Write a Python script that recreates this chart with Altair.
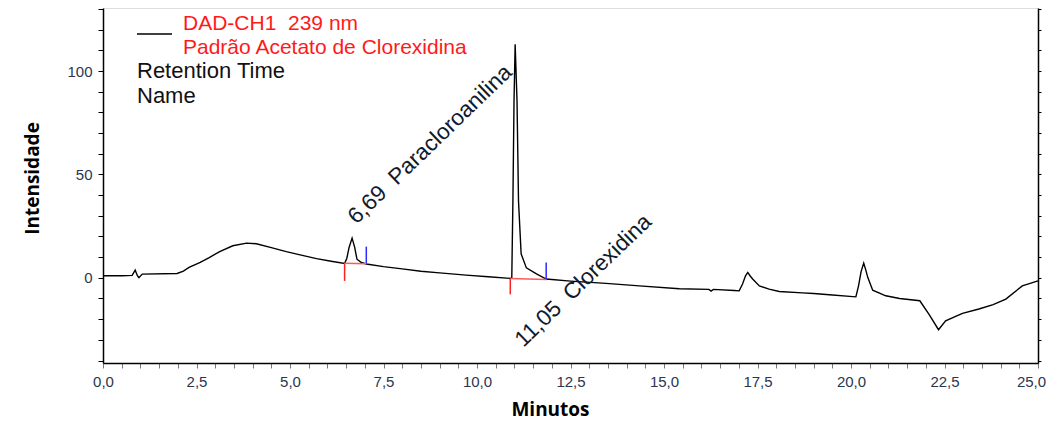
import altair as alt
import pandas as pd

# ---- chromatogram trace (minutes, intensity) ----
t_min = [0.00, 0.50, 0.78, 0.86, 0.92, 0.96, 1.05, 1.98, 2.15, 2.30, 2.60, 2.84, 3.12, 3.47,
         3.84, 4.10, 4.50, 4.90, 5.30, 5.71, 6.10, 6.46, 6.52, 6.58, 6.66, 6.73, 6.79, 6.91,
         7.04, 7.50, 8.00, 8.50, 9.00, 9.71, 10.30, 10.89, 10.93, 10.96, 10.99, 11.02, 11.07,
         11.11, 11.18, 11.32, 11.59, 11.85, 12.50, 13.45, 14.34, 15.41, 16.20, 16.26, 16.32,
         16.88, 17.01, 17.10, 17.18, 17.24, 17.30, 17.37, 17.55, 17.81, 18.08, 18.70, 19.00,
         19.42, 20.13, 20.20, 20.27, 20.34, 20.40, 20.45, 20.58, 20.93, 21.30, 21.84, 22.10,
         22.34, 22.53, 22.98, 23.42, 23.80, 24.14, 24.58, 25.00]
intensity = [1.0, 1.0, 1.2, 3.7, 1.0, 0.1, 1.8, 2.1, 3.2, 5.0, 7.5, 9.8, 12.7, 15.5,
             16.8, 16.5, 14.6, 12.7, 11.0, 9.3, 8.0, 6.9, 9.5, 14.7, 19.2, 14.7, 9.0, 7.4,
             6.7, 5.4, 4.3, 3.2, 2.4, 1.3, 0.5, -0.3, 0.0, 37.0, 85.6, 113.0, 85.6,
             37.0, 11.6, 4.8, 1.9, -0.6, -1.6, -2.7, -3.9, -5.3, -5.6, -6.4, -5.6,
             -6.1, -6.3, -3.0, 1.0, 2.6, 1.0, -0.6, -3.9, -5.5, -6.6, -7.3, -7.6,
             -8.2, -9.2, -4.0, 3.0, 7.1, 3.5, 0.1, -6.0, -8.7, -10.0, -11.1, -18.0,
             -25.1, -20.8, -17.2, -15.1, -13.0, -10.3, -3.9, -1.5]

# ---- integration markers ----
mk_x1 = [6.46, 7.04, 6.46, 10.89, 11.85, 10.89]
mk_x2 = [6.46, 7.04, 7.04, 10.89, 11.85, 11.85]
mk_y1 = [-1.5, 6.7, 7.0, -8.0, -0.8, -0.3]
mk_y2 = [7.2, 15.1, 6.8, -0.3, 7.4, -0.8]
mk_kind = ["start", "end", "base", "start", "end", "base"]

# ---- peak annotations ----
ann_x = [6.78, 11.24]
ann_y = [25.5, -34.0]
ann_text = ["6,69\u00a0 Paracloroanilina", "11,05\u00a0 Clorexidina"]

# ---- legend texts ----
leg_red = ["DAD-CH1\u00a0 239 nm", "Padrão Acetato de Clorexidina"]
leg_black = ["Retention Time", "Name"]

x_ticks = [i * 0.5 for i in range(51)]
y_ticks = list(range(-40, 131, 10))

FONT = "Liberation Sans"
LBL = "#2a3550"

trace = pd.DataFrame({"t": t_min, "v": intensity})
markers = pd.DataFrame({"x1": mk_x1, "x2": mk_x2, "y1": mk_y1, "y2": mk_y2, "kind": mk_kind})
ann = pd.DataFrame({"x": ann_x, "y": ann_y, "text": ann_text})

xscale = alt.Scale(domain=[0, 25], nice=False, zero=False)
yscale = alt.Scale(domain=[-41.2, 130.5], nice=False, zero=False)

xaxis = alt.Axis(
    title="Minutos", values=x_ticks,
    labelExpr="datum.value % 2.5 == 0 ? replace(format(datum.value, '.1f'), '.', ',') : ''",
    labelFont=FONT, labelFontSize=15, labelColor=LBL, labelPadding=6,
    labelOffset={"condition": {"test": "datum.value >= 25", "value": -7}, "value": 0},
    tickSize=5, tickColor="#777777", domainColor="black", domainWidth=1.5,
    titleFont="Open Sans", titleFontWeight="bold", titleFontSize=19, titleColor="black",
    titlePadding=11, titleX=447, grid=False, labelFlush=False, labelOverlap=False,
)
yaxis = alt.Axis(
    title="Intensidade", values=y_ticks,
    labelExpr="datum.value % 50 == 0 ? format(datum.value, 'd') : ''",
    labelFont=FONT, labelFontSize=15, labelColor=LBL, labelPadding=6,
    tickSize=5, tickColor="black", domainColor="black", domainWidth=1.5,
    titleFont="Open Sans", titleFontWeight="bold", titleFontSize=19, titleColor="black",
    titlePadding=24, titleY=170, grid=False, labelOverlap=False,
)
yaxis_right = alt.Axis(orient="right", title=None, labels=False, values=y_ticks,
                       tickSize=3, tickColor="black", domainColor="black",
                       domainWidth=1.5, grid=False)

line = alt.Chart(trace).mark_line(color="black", strokeWidth=1.4).encode(
    x=alt.X("t:Q", scale=xscale, axis=xaxis),
    y=alt.Y("v:Q", scale=yscale, axis=yaxis),
)

marks = alt.Chart(markers).mark_rule(strokeWidth=1.5).encode(
    x=alt.X("x1:Q", scale=xscale, axis=None),
    x2="x2:Q",
    y=alt.Y("y1:Q", scale=yscale, axis=yaxis_right),
    y2="y2:Q",
    color=alt.Color("kind:N", legend=None,
                    scale=alt.Scale(domain=["start", "end", "base"],
                                    range=["#ff2020", "#2a2aff", "#ff5a5a"])),
)

labels = alt.Chart(ann).mark_text(
    align="left", baseline="alphabetic", angle=316, font=FONT, fontSize=22.5, color="#111a2e"
).encode(x=alt.X("x:Q", scale=xscale, axis=None),
         y=alt.Y("y:Q", scale=yscale, axis=None), text="text:N")

one = pd.DataFrame({"a": [0]})
leg_line = alt.Chart(one).mark_rule(color="black", strokeWidth=1.3).encode(
    x=alt.value(34), x2=alt.value(69), y=alt.value(26))
leg_layers = [leg_line]
for i, s in enumerate(leg_red):
    leg_layers.append(alt.Chart(one).mark_text(
        align="left", baseline="middle", font=FONT, fontSize=21, color="#ff1a1a", text=s
    ).encode(x=alt.value(80), y=alt.value(16 + 24 * i)))
for i, s in enumerate(leg_black):
    leg_layers.append(alt.Chart(one).mark_text(
        align="left", baseline="middle", font=FONT, fontSize=22, color="#111111", text=s
    ).encode(x=alt.value(34), y=alt.value(63 + 25 * i)))

chart = alt.layer(line, marks, labels, *leg_layers).resolve_axis(
    x="independent", y="independent"
).properties(
    width=935, height=355,
    autosize=alt.AutoSizeParams(type="none"),
    padding={"left": 95, "top": 0, "right": 8, "bottom": 57},
).configure_view(stroke="black", strokeWidth=1.5).configure(background="white")

chart.save("out.html", embed_options={"renderer": "svg", "actions": False})
